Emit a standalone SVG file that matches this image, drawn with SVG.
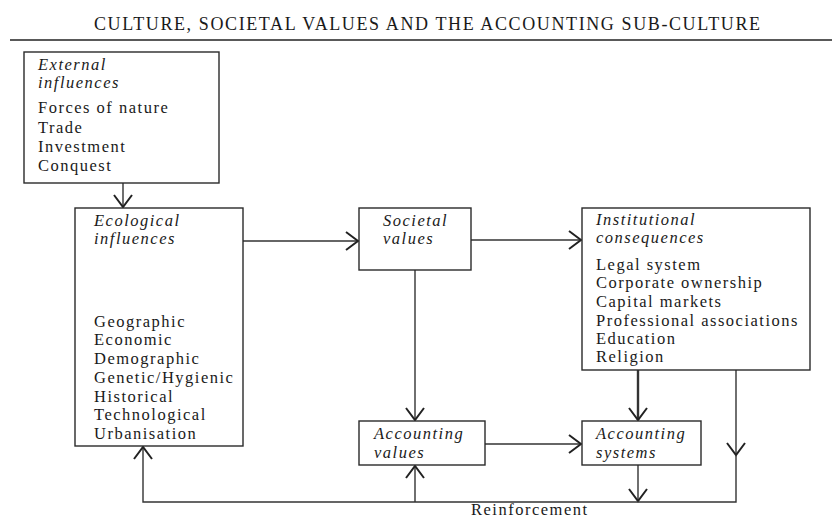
<svg xmlns="http://www.w3.org/2000/svg" width="832" height="520" viewBox="0 0 832 520">
<defs>
<style>
text{font-family:"Liberation Serif","Times New Roman",serif;fill:#1a1a1a}
.t{font-size:16.5px;letter-spacing:1.5px}
.i{font-style:italic}
.box{fill:#fff;stroke:#2a2a2a;stroke-width:1.4}
.c{fill:none;stroke:#333;stroke-width:1.4}
.thick{stroke-width:2.4}
</style>
<marker id="ah" markerUnits="userSpaceOnUse" markerWidth="30" markerHeight="30" refX="14" refY="10" orient="auto">
<path d="M2,1 L14,10 L2,19" fill="none" stroke="#222" stroke-width="2"/>
</marker>
</defs>
<rect width="832" height="520" fill="#fff"/>
<text x="94" y="30" font-size="18" textLength="666" lengthAdjust="spacing">CULTURE, SOCIETAL VALUES AND THE ACCOUNTING SUB-CULTURE</text>
<line x1="10" y1="40" x2="832" y2="40" stroke="#222" stroke-width="1.6"/>

<g id="connectors">
<path class="c" d="M123,183 V207" marker-end="url(#ah)"/>
<path class="c" d="M243,241 H358" marker-end="url(#ah)"/>
<path class="c" d="M471,240 H581" marker-end="url(#ah)"/>
<path class="c" d="M415,270 V420" marker-end="url(#ah)"/>
<path class="c thick" d="M638,370 V420" marker-end="url(#ah)"/>
<path class="c" d="M485,444 H581" marker-end="url(#ah)"/>
<path class="c" d="M638,465 V501" marker-end="url(#ah)"/>
<path class="c" d="M736,370 V455" marker-end="url(#ah)"/>
<path class="c" d="M736,455 V502 H143 V447" marker-end="url(#ah)"/>
<path class="c" d="M415,502 V466" marker-end="url(#ah)"/>
</g>

<g id="external">
<rect class="box" x="24" y="52" width="195" height="131"/>
<text class="t i" x="38" y="70">External</text>
<text class="t i" x="38" y="88">influences</text>
<text class="t" x="38" y="113">Forces of nature</text>
<text class="t" x="38" y="133">Trade</text>
<text class="t" x="38" y="152">Investment</text>
<text class="t" x="38" y="171">Conquest</text>
</g>

<g id="ecological">
<rect class="box" x="75" y="208" width="168" height="238"/>
<text class="t i" x="94" y="226">Ecological</text>
<text class="t i" x="94" y="244">influences</text>
<text class="t" x="94" y="327">Geographic</text>
<text class="t" x="94" y="345">Economic</text>
<text class="t" x="94" y="364">Demographic</text>
<text class="t" x="94" y="383">Genetic/Hygienic</text>
<text class="t" x="94" y="402">Historical</text>
<text class="t" x="94" y="420">Technological</text>
<text class="t" x="94" y="439">Urbanisation</text>
</g>

<g id="societal">
<rect class="box" x="359" y="208" width="112" height="62"/>
<text class="t i" x="383" y="226">Societal</text>
<text class="t i" x="383" y="244">values</text>
</g>

<g id="institutional">
<rect class="box" x="582" y="208" width="228" height="162"/>
<text class="t i" x="596" y="225">Institutional</text>
<text class="t i" x="596" y="243">consequences</text>
<text class="t" x="596" y="270">Legal system</text>
<text class="t" x="596" y="288">Corporate ownership</text>
<text class="t" x="596" y="307">Capital markets</text>
<text class="t" x="596" y="326">Professional associations</text>
<text class="t" x="596" y="344">Education</text>
<text class="t" x="596" y="362">Religion</text>
</g>

<g id="accounting-values">
<rect class="box" x="359" y="421" width="126" height="44"/>
<text class="t i" x="374" y="439">Accounting</text>
<text class="t i" x="374" y="458">values</text>
</g>

<g id="accounting-systems">
<rect class="box" x="582" y="421" width="119" height="44"/>
<text class="t i" x="596" y="439">Accounting</text>
<text class="t i" x="596" y="458">systems</text>
</g>

<g id="reinforcement">
<text class="t" x="471" y="515">Reinforcement</text>
</g>
</svg>
